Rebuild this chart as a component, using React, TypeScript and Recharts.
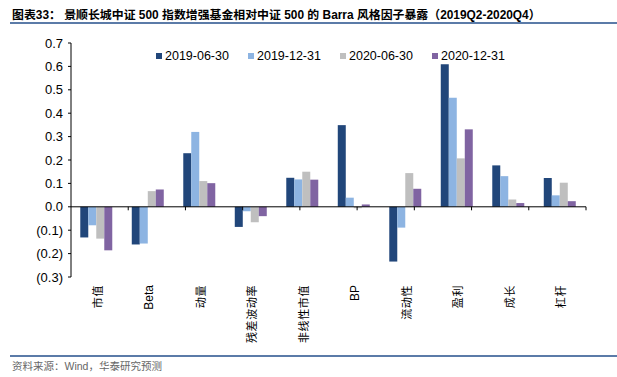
import React from "react";
import {
	BarChart,
	Bar,
	XAxis,
	YAxis,
	Legend,
	ReferenceLine,
} from "recharts";

// Barra 风格因子
const factors = [
	"市值",
	"Beta",
	"动量",
	"残差波动率",
	"非线性市值",
	"BP",
	"流动性",
	"盈利",
	"成长",
	"杠杆",
];

const q2019_06 = [-0.131, -0.161, 0.229, -0.086, 0.124, 0.349, -0.234, 0.609, 0.177, 0.123];
const q2019_12 = [-0.079, -0.157, 0.32, -0.019, 0.117, 0.039, -0.089, 0.466, 0.131, 0.049];
const q2020_06 = [-0.136, 0.067, 0.11, -0.066, 0.15, -0.006, 0.144, 0.207, 0.031, 0.103];
const q2020_12 = [-0.186, 0.074, 0.101, -0.04, 0.116, 0.01, 0.077, 0.331, 0.016, 0.024];

const yTicks = [-0.3, -0.2, -0.1, 0, 0.1, 0.2, 0.3, 0.4, 0.5, 0.6, 0.7];
const boundaries = [1, 2, 3, 4, 5, 6, 7, 8, 9, 10];

const series = [
	{ key: "s1", name: "2019-06-30", color: "#21467A", values: q2019_06 },
	{ key: "s2", name: "2019-12-31", color: "#8DB4E2", values: q2019_12 },
	{ key: "s3", name: "2020-06-30", color: "#BFBFBF", values: q2020_06 },
	{ key: "s4", name: "2020-12-31", color: "#8064A2", values: q2020_12 },
];

const data = factors.map((f, i) => {
	const row: Record<string, string | number> = { name: f };
	series.forEach((s) => {
		row[s.key] = s.values[i];
	});
	return row;
});

const FONT = '"Liberation Sans", Arial, "Noto Sans CJK SC", sans-serif';
const RULE = "#5B7BA8";

const fmt = (v: number) =>
	v < 0 ? `(${Math.abs(v).toFixed(1)})` : v.toFixed(1);

function FactorTick(props: any) {
	const { x, y, payload } = props;
	const latin = /^[A-Za-z]+$/.test(payload.value);
	return (
		<text
			x={0}
			y={0}
			transform={`translate(${x + 1},${y + 8}) rotate(-90)`}
			textAnchor="end"
			dominantBaseline="central"
			fontSize={latin ? 12 : 11}
			fontFamily={FONT}
			fill="#000"
			letterSpacing={latin ? 0 : 0.6}
		>
			{payload.value}
		</text>
	);
}

function LegendBox(props: any) {
	const { payload } = props;
	return (
		<div style={{ display: "flex", fontFamily: FONT, fontSize: 12.5 }}>
			{payload.map((p: any) => (
				<div
					key={p.value}
					style={{ width: 92, display: "flex", alignItems: "center" }}
				>
					<span
						style={{
							width: 6,
							height: 6,
							background: p.color,
							marginRight: 3,
							display: "inline-block",
						}}
					/>
					<span style={{ color: "#000" }}>{p.value}</span>
				</div>
			))}
		</div>
	);
}

export default function App() {
	return (
		<div
			style={{
				position: "absolute",
				left: 0,
				top: 0,
				width: 617,
				height: 377,
				background: "#fff",
				fontFamily: FONT,
			}}
		>
			<div
				style={{
					position: "absolute",
					left: 12,
					top: 8,
					fontSize: 11.9,
					fontWeight: "bold",
					lineHeight: "14px",
					whiteSpace: "nowrap",
					color: "#000",
				}}
			>
				图表33： 景顺长城中证 500 指数增强基金相对中证 500 的 Barra 风格因子暴露（2019Q2-2020Q4）
			</div>
			<div
				style={{
					position: "absolute",
					left: 10,
					top: 22,
					width: 607,
					height: 2,
					background: RULE,
				}}
			/>

			<BarChart
				width={617}
				height={377}
				data={data}
				margin={{ top: 43, right: 31, left: 0, bottom: 0 }}
				barCategoryGap="18%"
				barGap={0}
			>
				<XAxis
					xAxisId="cat"
					dataKey="name"
					interval={0}
					height={100}
					axisLine={false}
					tickLine={false}
					tickSize={0}
					tickMargin={0}
					tick={<FactorTick />}
				/>
				<XAxis xAxisId="num" type="number" domain={[0, 10]} hide />
				<YAxis
					domain={[-0.3, 0.7]}
					ticks={yTicks}
					tickFormatter={fmt}
					width={71}
					tickSize={3}
					tickMargin={5}
					axisLine={{ stroke: "#000" }}
					tickLine={{ stroke: "#000" }}
					tick={{ fill: "#000", fontSize: 13, fontFamily: FONT }}
					interval={0}
				/>
				<Legend
					layout="horizontal"
					verticalAlign="middle"
					align="center"
					content={<LegendBox />}
					wrapperStyle={{ top: 49, left: 156, width: 380, height: 16 }}
				/>
				{series.map((s) => (
					<Bar
						key={s.key}
						xAxisId="cat"
						dataKey={s.key}
						name={s.name}
						fill={s.color}
						isAnimationActive={false}
					/>
				))}
				<ReferenceLine xAxisId="cat" y={0} stroke="#000" />
				{boundaries.map((b) => (
					<ReferenceLine
						key={b}
						xAxisId="num"
						stroke="#000"
						segment={[
							{ x: b, y: 0 },
							{ x: b, y: -0.015 },
						]}
					/>
				))}
			</BarChart>

			<div
				style={{
					position: "absolute",
					left: 10,
					top: 355,
					width: 607,
					height: 2,
					background: RULE,
				}}
			/>
			<div
				style={{
					position: "absolute",
					left: 12,
					top: 360,
					fontSize: 10.5,
					color: "#666",
					lineHeight: "13px",
					whiteSpace: "nowrap",
				}}
			>
				资料来源：Wind，华泰研究预测
			</div>
		</div>
	);
}
